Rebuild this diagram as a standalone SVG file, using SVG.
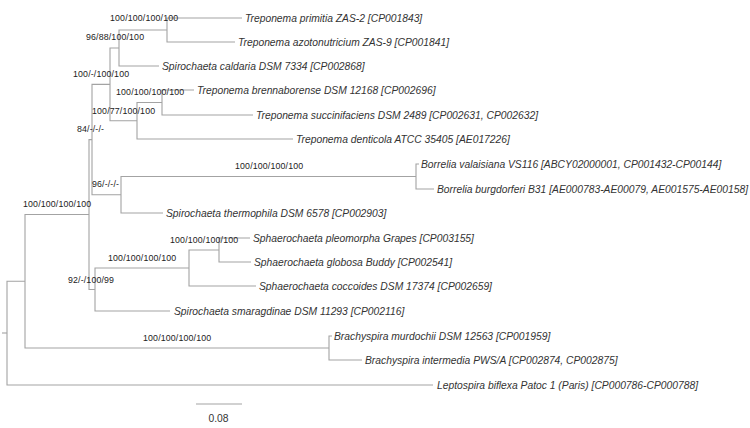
<svg xmlns="http://www.w3.org/2000/svg" width="750" height="428" viewBox="0 0 750 428">
<style>
.br{fill:none;stroke:#a3a3a3;stroke-width:1.1}
.leaf{font-family:"Liberation Sans",Arial,sans-serif;font-size:10.3px;font-style:italic;fill:#333}
.sup{font-family:"Liberation Sans",Arial,sans-serif;font-size:8.8px;letter-spacing:0.15px;fill:#222}
.sc{font-family:"Liberation Sans",Arial,sans-serif;font-size:10.3px;fill:#333}
</style>
<rect width="750" height="428" fill="#fff"/>
<g id="connectors">
<path class="br" d="M242 18H167V42H235"/>
<path class="br" d="M167 30H119V66H159"/>
<path class="br" d="M194 90H162V115H253"/>
<path class="br" d="M162 102.5H137V139H293"/>
<path class="br" d="M119 48H110V120.75H137"/>
<path class="br" d="M419 164H416V189H434"/>
<path class="br" d="M416 176.5H121V213H163"/>
<path class="br" d="M110 84.4H92V194.75H121"/>
<path class="br" d="M250 238H219V262H251"/>
<path class="br" d="M219 250H189V286H256"/>
<path class="br" d="M189 268H95V311H170"/>
<path class="br" d="M92 139.6H89V289.5H95"/>
<path class="br" d="M332 336H329V360H362"/>
<path class="br" d="M89 214.5H25V348H329"/>
<path class="br" d="M25 281.25H7V385H433"/>
<path class="br" d="M2 333H7"/>
</g>
<g id="leaf-primitia"><text class="leaf" x="245" y="21.6">Treponema primitia ZAS-2 [CP001843]</text></g>
<g id="leaf-azotonutricium"><text class="leaf" x="238" y="45.6">Treponema azotonutricium ZAS-9 [CP001841]</text></g>
<g id="leaf-caldaria"><text class="leaf" x="162" y="69.6">Spirochaeta caldaria DSM 7334 [CP002868]</text></g>
<g id="leaf-brennaborense"><text class="leaf" x="197" y="93.6">Treponema brennaborense DSM 12168 [CP002696]</text></g>
<g id="leaf-succinifaciens"><text class="leaf" x="256" y="118.6">Treponema succinifaciens DSM 2489 [CP002631, CP002632]</text></g>
<g id="leaf-denticola"><text class="leaf" x="296" y="142.6">Treponema denticola ATCC 35405 [AE017226]</text></g>
<g id="leaf-valaisiana"><text class="leaf" x="421" y="167.6">Borrelia valaisiana VS116 [ABCY02000001, CP001432-CP00144]</text></g>
<g id="leaf-burgdorferi"><text class="leaf" x="437" y="192.6">Borrelia burgdorferi B31 [AE000783-AE00079, AE001575-AE00158]</text></g>
<g id="leaf-thermophila"><text class="leaf" x="166" y="216.6">Spirochaeta thermophila DSM 6578 [CP002903]</text></g>
<g id="leaf-pleomorpha"><text class="leaf" x="253" y="241.6">Sphaerochaeta pleomorpha Grapes [CP003155]</text></g>
<g id="leaf-globosa"><text class="leaf" x="254" y="265.6">Sphaerochaeta globosa Buddy [CP002541]</text></g>
<g id="leaf-coccoides"><text class="leaf" x="259" y="289.6">Sphaerochaeta coccoides DSM 17374 [CP002659]</text></g>
<g id="leaf-smaragdinae"><text class="leaf" x="174" y="314.6">Spirochaeta smaragdinae DSM 11293 [CP002116]</text></g>
<g id="leaf-murdochii"><text class="leaf" x="334" y="339.6">Brachyspira murdochii DSM 12563 [CP001959]</text></g>
<g id="leaf-intermedia"><text class="leaf" x="365" y="363.6">Brachyspira intermedia PWS/A [CP002874, CP002875]</text></g>
<g id="leaf-biflexa"><text class="leaf" x="437" y="388.6">Leptospira biflexa Patoc 1 (Paris) [CP000786-CP000788]</text></g>
<g id="node-A"><text class="sup" x="110" y="21.3">100/100/100/100</text></g>
<g id="node-B"><text class="sup" x="86" y="40">96/88/100/100</text></g>
<g id="node-E"><text class="sup" x="73" y="76.5">100/-/100/100</text></g>
<g id="node-C"><text class="sup" x="116" y="94.5">100/100/100/100</text></g>
<g id="node-D"><text class="sup" x="92" y="114">100/77/100/100</text></g>
<g id="node-F"><text class="sup" x="77" y="132">84/-/-/-</text></g>
<g id="node-M"><text class="sup" x="235" y="169">100/100/100/100</text></g>
<g id="node-G"><text class="sup" x="92" y="187">96/-/-/-</text></g>
<g id="node-H"><text class="sup" x="23" y="207">100/100/100/100</text></g>
<g id="node-J"><text class="sup" x="170" y="243">100/100/100/100</text></g>
<g id="node-K"><text class="sup" x="108" y="261">100/100/100/100</text></g>
<g id="node-L"><text class="sup" x="68" y="283">92/-/100/99</text></g>
<g id="node-N"><text class="sup" x="143" y="341">100/100/100/100</text></g>
<g id="scale">
<path class="br" d="M196 404H242"/>
<text class="sc" x="218.5" y="422" text-anchor="middle">0.08</text>
</g>
</svg>
